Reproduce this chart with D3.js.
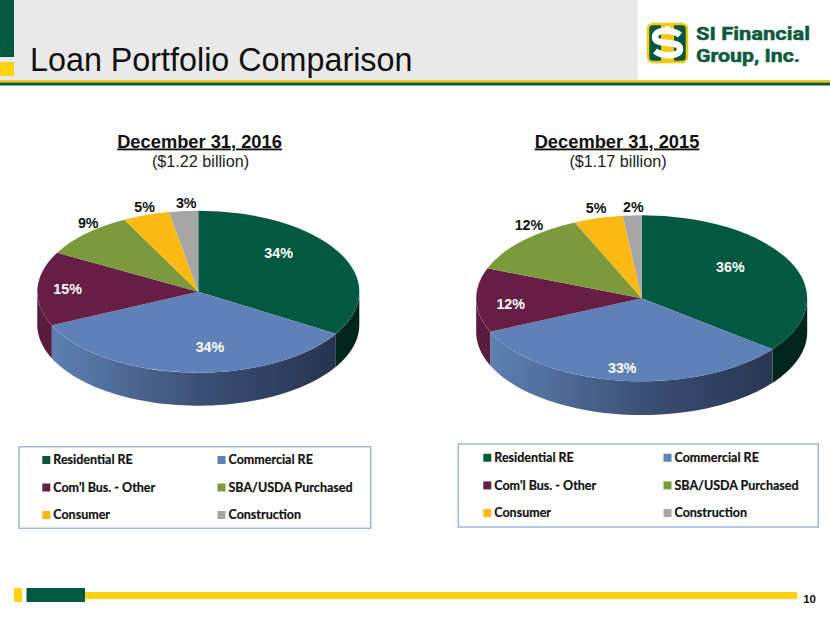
<!DOCTYPE html>
<html><head><meta charset="utf-8">
<script src="https://cdnjs.cloudflare.com/ajax/libs/d3/7.8.5/d3.min.js"></script>
<style>html,body{margin:0;padding:0;background:#fff;overflow:hidden}svg{display:block}text{font-family:"Liberation Sans",Arial,sans-serif}</style>
</head><body>
<script>
const categories = ["Residential RE","Commercial RE","Com'l Bus. - Other","SBA/USDA Purchased","Consumer","Construction"];
const values2016 = [33.7,34.49,14.8,9.4,4.7,2.91];
const values2015 = [35.5,32.9,12.49,12.49,4.8,1.82];
const titleText = "Loan Portfolio Comparison";
const pageNumber = "10";
const topColors = ["#03593f","#5f81b8","#671e45","#7a9a3c","#fdb913","#a6a6a6"];
const wallColors = ["#00261b",null,"#5a1c3d","#5f7a2e","#c48f0e","#808080"];
const labelColors = ["#fff","#fff","#fff","#111","#111","#111"];

const W=830,H=623;
const svg=d3.select("body").append("svg").attr("width",W).attr("height",H).attr("viewBox",[0,0,W,H]);
const defs=svg.append("defs");

// Slide frame
const rect=(x,y,w,h,f)=>svg.append("rect").attr("x",x).attr("y",y).attr("width",w).attr("height",h).attr("fill",f);
rect(0,0,638,80,"#e9e9e9");
rect(0,0,14,57,"#03593f");
rect(0,62,14,14,"#ffd311");
rect(0,80,830,2.5,"#f5c911");
rect(0,82.5,830,3,"#03593f");
svg.append("text").attr("x",30).attr("y",71).attr("font-size",32.3).attr("fill","#111").text(titleText);

// Logo
const logo=svg.append("g");
logo.append("rect").attr("x",648).attr("y",24).attr("width",39).attr("height",38).attr("rx",5).attr("fill","#03593f").attr("stroke","#f5c911").attr("stroke-width",2.5);
logo.append("rect").attr("x",661).attr("y",25).attr("width",13).attr("height",36).attr("fill","#f5c911");
logo.append("path").attr("d","M680 35 C672 29 655 29 655 37 C655 47 680 39 680 49 C680 57 663 57 655 51").attr("fill","none").attr("stroke","#fff").attr("stroke-width",6.5);
logo.append("rect").attr("x",665).attr("y",26).attr("width",5).attr("height",7).attr("fill","#fff");
const logoText=(t,y,len)=>logo.append("text").attr("x",696).attr("y",y).attr("font-size",19).attr("font-weight",700)
  .style("font-family","Roboto").attr("fill","#0b5a3c").attr("stroke","#0b5a3c").attr("stroke-width",0.5)
  .attr("textLength",len).attr("lengthAdjust","spacingAndGlyphs").text(t);
logoText("SI Financial",39.8,114);
logoText("Group, Inc.",62.2,104);

// Footer
rect(14,588,8,14,"#ffd311");
rect(85,592,712,7,"#ffd311");
rect(26.5,588,58.5,14,"#03593f");
svg.append("text").attr("x",816).attr("y",603).attr("text-anchor","end").attr("font-size",11.5).attr("font-weight",700).attr("fill","#111").text(pageNumber);

// 3D pie
const tau=2*Math.PI;
function drawPie(cfg){
  const {id,values,cx,cy,rx,ry,depth,heading,sub,headX,nudges,box,swX}=cfg;
  const g=svg.append("g");
  g.append("text").attr("x",headX).attr("y",147.5).attr("text-anchor","middle").attr("font-size",18.3).attr("font-weight",700)
    .attr("text-decoration","underline").attr("fill","#111").text(heading);
  g.append("text").attr("x",headX+1).attr("y",167).attr("text-anchor","middle").attr("font-size",16.2).attr("fill","#222").text(sub);

  const arcs=d3.pie().sort(null)(values);
  const xAt=d3.scaleLinear().domain([-1,1]).range([cx-rx,cx+rx]);
  const yAt=d3.scaleLinear().domain([-1,1]).range([cy-ry,cy+ry]);

  const grad=defs.append("linearGradient").attr("id","blue"+id).attr("gradientUnits","userSpaceOnUse")
    .attr("x1",xAt(-0.92)).attr("x2",xAt(0.85)).attr("y1",0).attr("y2",0);
  grad.append("stop").attr("offset",0).attr("stop-color","#5f80b3");
  grad.append("stop").attr("offset",0.55).attr("stop-color","#3a4e73");
  grad.append("stop").attr("offset",1).attr("stop-color","#26344f");

  // Walls: only the front half of the rim (90deg..270deg from the top) is visible
  const wall=d3.area().x(t=>xAt(Math.sin(t))).y0(t=>yAt(-Math.cos(t))).y1(t=>yAt(-Math.cos(t))+depth);
  arcs.forEach((a,i)=>{
    const s=Math.max(a.startAngle,tau/4), e=Math.min(a.endAngle,3*tau/4);
    if(e<=s) return;
    g.append("path").attr("d",wall(d3.range(0,61).map(k=>s+(e-s)*k/60)))
      .attr("fill",wallColors[i]||`url(#blue${id})`);
  });

  // Top face: a flat arc squashed to an ellipse
  const arc=d3.arc().innerRadius(0).outerRadius(rx);
  const top=g.append("g").attr("transform",`translate(${cx},${cy}) scale(1,${ry/rx})`);
  top.selectAll("path").data(arcs).join("path").attr("d",arc).attr("fill",(d,i)=>topColors[i]);

  // Labels
  arcs.forEach((a,i)=>{
    const m=(a.startAngle+a.endAngle)/2, r=i<3?0.62:1.12;
    g.append("text").attr("x",xAt(r*Math.sin(m))+nudges[i][0]).attr("y",yAt(-r*Math.cos(m))+nudges[i][1])
      .attr("dy","0.36em").attr("text-anchor","middle").attr("font-size",14.3).attr("font-weight",700)
      .attr("fill",labelColors[i]).text(Math.round(values[i])+"%");
  });

  // Legend
  g.append("rect").attr("x",box.x).attr("y",box.y).attr("width",box.w).attr("height",box.h)
    .attr("fill","#fff").attr("stroke","#9db8de").attr("stroke-width",1.5);
  categories.forEach((c,i)=>{
    const col=i%2,row=Math.floor(i/2);
    const y=box.rowY+row*box.rowH;
    g.append("rect").attr("x",swX[col]).attr("y",y-4).attr("width",8).attr("height",8).attr("fill",topColors[i]);
    g.append("text").attr("x",swX[col]+11).attr("y",y).attr("dy","0.35em").style("font-family","Lato").attr("font-size",12.5)
      .attr("font-weight",700).attr("fill","#111").attr("stroke","#111").attr("stroke-width",0.2).text(c);
  });
}
drawPie({id:"a",values:values2016,cx:198.3,cy:291.7,rx:161,ry:81,depth:33,heading:"December 31, 2016",sub:"($1.22 billion)",headX:199.5,
  nudges:[[-6.7,-13.8],[17.6,5.5],[-30.9,-.8],[15.9,-4],[4.8,1.4],[4.4,1.4]],
  box:{x:19,y:446.7,w:351.7,h:81.6,rowY:460,rowH:27.5},swX:[42.3,217.5]});
drawPie({id:"b",values:values2015,cx:641.7,cy:298.3,rx:165.5,ry:83,depth:33.7,heading:"December 31, 2015",sub:"($1.17 billion)",headX:617,
  nudges:[[-3.5,-8.7],[-6.9,18.6],[-28.4,4.2],[21.3,-9.1],[2.9,-.3],[2.2,1.2]],
  box:{x:458.3,y:444,w:360,h:83,rowY:457.7,rowH:27.7},swX:[483.3,663.5]});
</script>
</body></html>
